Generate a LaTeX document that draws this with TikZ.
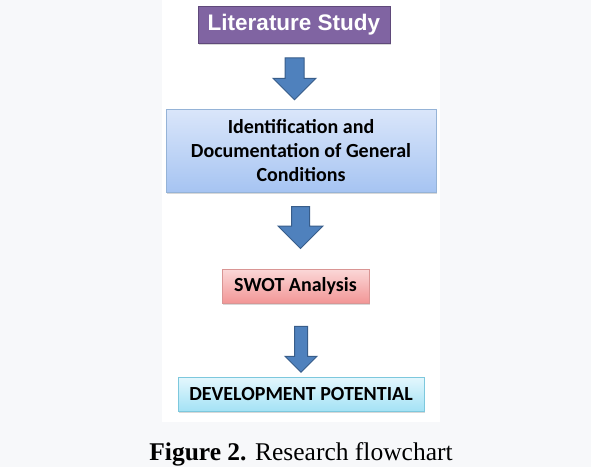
\documentclass[tikz,border=0pt]{standalone}
\usepackage{fontspec}
\usepackage{tikz}
\usetikzlibrary{shapes.arrows,shadows}
\newfontfamily\boxfont{Carlito}
\newfontfamily\arialfont{Liberation Sans}
\setmainfont{Liberation Serif}

\definecolor{pagegray}{HTML}{F7F8FA}
\definecolor{litfill}{HTML}{8064A2}
\definecolor{litline}{HTML}{5F497A}
\definecolor{arrowfill}{HTML}{4F81BD}
\definecolor{arrowline}{HTML}{385D8A}

\tikzset{
	stepbox/.style={draw, line width=0.8pt, inner sep=0pt, align=center,
		font=\boxfont\bfseries\fontsize{20}{24}\selectfont,
		drop shadow={shadow xshift=1pt, shadow yshift=-1.5pt, opacity=0.3}},
	downarrow/.style={single arrow, rotate=-90, draw=arrowline, fill=arrowfill,
		line width=1pt, inner xsep=0pt, single arrow tip angle=90}
}

\begin{document}
\begin{tikzpicture}[x=1pt,y=-1pt]

	\useasboundingbox[fill=pagegray] (0,0) rectangle (591,467);
	\fill[white] (162,0) rectangle (440,422);

	\node[stepbox, draw=litline, fill=litfill, text=white, minimum width=192pt,
		minimum height=37pt, font=\arialfont\bfseries\fontsize{22.5}{26}\selectfont]
		(lit) at (294,24.5) {Literature Study};

	\node[stepbox, draw={rgb,255:red,149;green,179;blue,215},
		top color={rgb,255:red,218;green,230;blue,250},
		bottom color={rgb,255:red,166;green,196;blue,242},
		minimum width=270pt, minimum height=83pt] (ident) at (301,150.5)
		{Identification and\\Documentation of General\\Conditions};

	\node[stepbox, draw={rgb,255:red,217;green,149;blue,148},
		top color={rgb,255:red,251;green,216;blue,216},
		bottom color={rgb,255:red,242;green,150;blue,150},
		minimum width=147pt, minimum height=34pt] (swot) at (295.5,286)
		{SWOT Analysis};

	\node[stepbox, draw={rgb,255:red,125;green,200;blue,221},
		top color={rgb,255:red,228;green,247;blue,253},
		bottom color={rgb,255:red,164;green,226;blue,245},
		minimum width=246pt, minimum height=34pt] (devpot) at (301,394)
		{DEVELOPMENT POTENTIAL};

	\node[downarrow, minimum height=42pt, inner ysep=9pt,
		single arrow head extend=12pt] (arr1) at (294.5,74) {};
	\node[downarrow, minimum height=42pt, inner ysep=8.5pt,
		single arrow head extend=13.5pt] (arr2) at (300.5,223) {};
	\node[downarrow, minimum height=46pt, inner ysep=6pt,
		single arrow head extend=9.5pt] (arr3) at (301,346) {};

	\node[anchor=base, font=\fontsize{25.5}{30}\selectfont] (caption) at (301,460.5)
		{\textbf{Figure 2.} Research flowchart};

\end{tikzpicture}
\end{document}
